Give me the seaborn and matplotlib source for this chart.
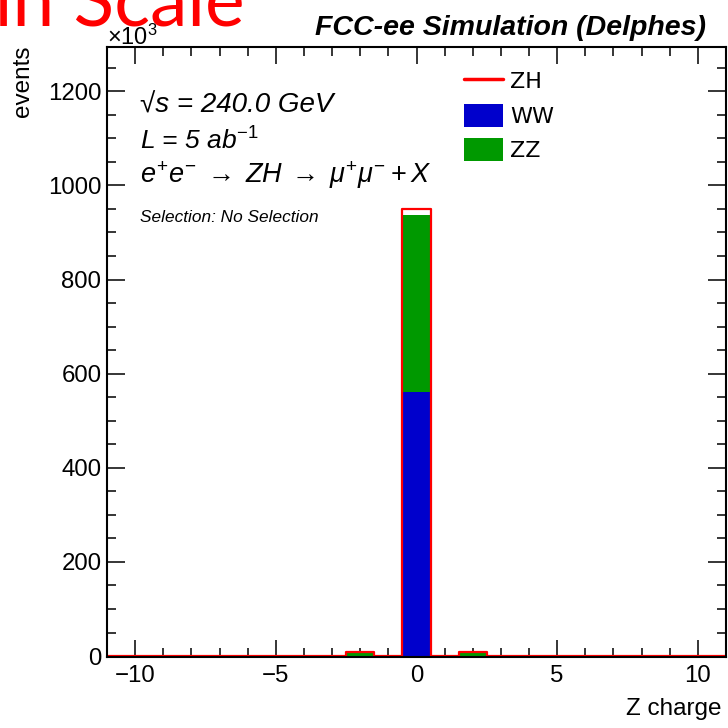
import matplotlib
matplotlib.use("Agg")
import matplotlib.pyplot as plt
from matplotlib.ticker import MultipleLocator
from matplotlib.lines import Line2D
from matplotlib.patches import Patch
import seaborn as sns
import pandas as pd

# Z candidate charge, one bin per integer value
charges = [-11, -10, -9, -8, -7, -6, -5, -4, -3, -2, -1, 0,
           1, 2, 3, 4, 5, 6, 7, 8, 9, 10, 11]
# events per bin, in units of 10^3
ww_events = [0, 0, 0, 0, 0, 0, 0, 0, 0, 0, 0, 560,
             0, 0, 0, 0, 0, 0, 0, 0, 0, 0, 0]
zz_events = [0, 0, 0, 0, 0, 0, 0, 0, 0, 8, 0, 378,
             0, 8, 0, 0, 0, 0, 0, 0, 0, 0, 0]
zh_events = [0, 0, 0, 0, 0, 0, 0, 0, 0, 1, 0, 12,
             0, 1, 0, 0, 0, 0, 0, 0, 0, 0, 0]

process_names = ["ZH", "WW", "ZZ"]
colors = {"ZH": "#FF0000", "WW": "#0000CC", "ZZ": "#009900"}

sns.set_style("ticks")
plt.rcParams["font.family"] = ["Liberation Sans", "DejaVu Sans"]
plt.rcParams["mathtext.fontset"] = "custom"
plt.rcParams["mathtext.rm"] = "Liberation Sans"
plt.rcParams["mathtext.it"] = "Liberation Sans:italic"
plt.rcParams["mathtext.bf"] = "Liberation Sans:bold"
for key in ["text.color", "axes.labelcolor", "xtick.color", "ytick.color",
            "axes.edgecolor"]:
    plt.rcParams[key] = "black"

bkg = pd.DataFrame({
    "charge": charges * 2,
    "events": ww_events + zz_events,
    "process": ["WW"] * len(charges) + ["ZZ"] * len(charges),
})
total = [w + z + h for w, z, h in zip(ww_events, zz_events, zh_events)]

fig = plt.figure(figsize=(7.28, 7.28), dpi=100)
W = H = 728.0
ax = fig.add_axes([107 / W, 71 / H, 619 / W, 610 / H])

# stacked WW + ZZ bars
sns.histplot(data=bkg, x="charge", weights="events", hue="process",
             hue_order=["ZZ", "WW"], multiple="stack", discrete=True,
             palette=colors, alpha=1, linewidth=0, legend=False, ax=ax)
# ZH stacked on top, drawn as a red outline of the total
sns.histplot(x=charges, weights=total, discrete=True, element="step",
             fill=False, color=colors["ZH"], linewidth=1.6, ax=ax)

ax.set_xlim(-11, 11)
ax.set_ylim(-2, 1294)
ax.xaxis.set_major_locator(MultipleLocator(5))
ax.xaxis.set_minor_locator(MultipleLocator(1))
ax.yaxis.set_major_locator(MultipleLocator(200))
ax.yaxis.set_minor_locator(MultipleLocator(50))
ax.tick_params(which="both", direction="in", top=True, right=True,
               width=1.1, color="black", labelsize=17.3)
ax.tick_params(axis="x", which="major", length=12.5, pad=6)
ax.tick_params(axis="y", which="major", length=13, pad=4)
ax.tick_params(which="minor", length=6.5)
for sp in ax.spines.values():
    sp.set_linewidth(1.5)
    sp.set_color("black")

ax.set_ylabel("events", loc="top", fontsize=17.5)
ax.yaxis.set_label_coords(-0.118, 1.003)
ax.set_xlabel("Z charge", loc="right", fontsize=17.5)
ax.xaxis.set_label_coords(1 - 4 / 619, -0.068)

ax.text(0.0, 1.004, r"$\times10^{3}$", transform=ax.transAxes,
        fontsize=17, ha="left", va="baseline")

tx = 0.053
ax.text(tx, 0.892, "\u221as = 240.0 GeV", transform=ax.transAxes,
        fontsize=20, style="italic", va="baseline")
ax.text(tx, 0.831, r"L = 5 ab$^{-1}$", transform=ax.transAxes,
        fontsize=19, style="italic", va="baseline")
ax.text(tx, 0.777,
        r"$e^{+}e^{-}\;\rightarrow\;ZH\;\rightarrow\;\mu^{+}\mu^{-} + X$",
        transform=ax.transAxes, fontsize=19.5, va="baseline")
ax.text(tx, 0.713, "Selection: No Selection", transform=ax.transAxes,
        fontsize=12.4, style="italic", va="baseline")

handles = [Line2D([], [], color=colors["ZH"], lw=2.5),
           Patch(facecolor=colors["WW"], edgecolor="none"),
           Patch(facecolor=colors["ZZ"], edgecolor="none")]
ax.legend(handles, process_names, loc="upper left",
          bbox_to_anchor=(0.577, 0.963), frameon=False,
          prop={"family": "DejaVu Sans", "size": 16},
          handlelength=1.76, handleheight=1.2, labelspacing=0.52,
          handletextpad=0.3, borderpad=0, borderaxespad=0)

fig.text(706 / W, 1 - 28 / H, "FCC-ee Simulation (Delphes)",
         ha="right", va="center", fontsize=20.5, weight="bold",
         style="italic")
fig.text(245 / W, 1 - 25 / H, "Lin Scale", ha="right", va="baseline",
         color="#FF0000", family="Lato", fontsize=54)

fig.savefig("out.png", dpi=100)
